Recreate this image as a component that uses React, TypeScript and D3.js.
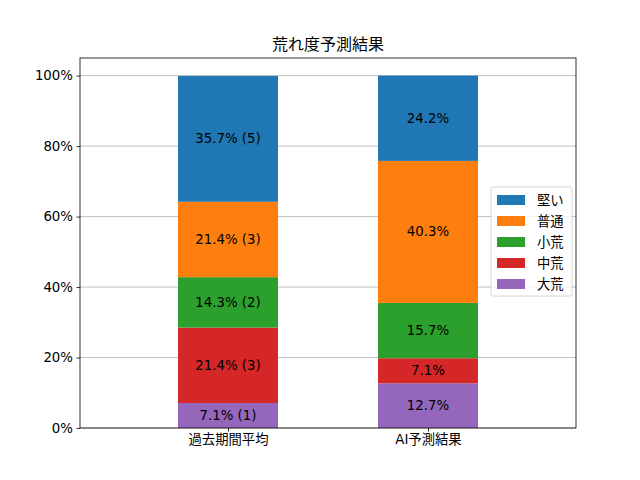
import * as React from 'react';
import { useEffect, useRef } from 'react';
import * as d3 from 'd3';

// Data
const categories = ['過去期間平均', 'AI予測結果'];
const levels = ['大荒', '中荒', '小荒', '普通', '堅い'];
const colors = ['#9467bd', '#d62728', '#2ca02c', '#ff7f0e', '#1f77b4'];
const pastValues = [7.1, 21.4, 14.3, 21.4, 35.7];
const pastCounts = [1, 3, 2, 3, 5];
const aiValues = [12.7, 7.1, 15.7, 40.3, 24.2];
const yTicks = [0, 20, 40, 60, 80, 100];

const FONT = "'DejaVu Sans', 'Noto Sans CJK JP', sans-serif";

const App: React.FC = () => {
  const svgRef = useRef<SVGSVGElement>(null);
  const width = 640;
  const height = 480;

  useEffect(() => {
    const svg = d3.select(svgRef.current);
    svg.selectAll('*').remove();

    const margin = { top: 58, right: 64, bottom: 52, left: 80 };
    const chartWidth = width - margin.left - margin.right;
    const chartHeight = height - margin.top - margin.bottom;

    const xScale = d3.scaleLinear().domain([-0.74, 1.74]).range([0, chartWidth]);
    const yScale = d3.scaleLinear().domain([0, 105]).range([chartHeight, 0]);
    const barW = xScale(0.5) - xScale(0);

    const g = svg.append('g').attr('transform', `translate(${margin.left},${margin.top})`);

    // Grid
    g.append('g')
      .selectAll('line')
      .data(yTicks)
      .enter().append('line')
      .attr('x1', 0)
      .attr('x2', chartWidth)
      .attr('y1', d => yScale(d))
      .attr('y2', d => yScale(d))
      .attr('stroke', '#b0b0b0')
      .attr('stroke-width', 0.8);

    // Stacked bars
    const series = [
      { values: pastValues, labels: pastValues.map((v, i) => `${v.toFixed(1)}% (${pastCounts[i]})`) },
      { values: aiValues, labels: aiValues.map(v => `${v.toFixed(1)}%`) },
    ];

    series.forEach((s, ci) => {
      let base = 0;
      s.values.forEach((v, li) => {
        const y0 = base;
        const y1 = base + v;
        base = y1;
        g.append('rect')
          .attr('x', xScale(ci) - barW / 2)
          .attr('y', yScale(y1))
          .attr('width', barW)
          .attr('height', yScale(y0) - yScale(y1))
          .attr('fill', colors[li]);
        g.append('text')
          .attr('x', xScale(ci))
          .attr('y', (yScale(y0) + yScale(y1)) / 2)
          .attr('text-anchor', 'middle')
          .attr('dominant-baseline', 'central')
          .attr('font-family', FONT)
          .attr('font-size', 13.33)
          .attr('fill', '#000')
          .text(s.labels[li]);
      });
    });

    // Axes
    const xAxis = g.append('g')
      .attr('transform', `translate(0,${chartHeight})`)
      .call(d3.axisBottom(xScale).tickValues([0, 1]).tickFormat((d, i) => categories[i]).tickSize(3.5).tickSizeOuter(0));
    const yAxis = g.append('g')
      .call(d3.axisLeft(yScale).tickValues(yTicks).tickFormat(d => `${d}%`).tickSize(3.5).tickSizeOuter(0));
    [xAxis, yAxis].forEach(a => {
      a.select('.domain').remove();
      a.selectAll('text').attr('font-family', FONT).attr('font-size', 13.33).attr('fill', '#000');
      a.selectAll('line').attr('stroke', '#000').attr('stroke-width', 0.8);
    });
    xAxis.selectAll('text').attr('dy', '0.71em').attr('y', 7);
    yAxis.selectAll('text').attr('x', -7);

    // Frame
    g.append('rect')
      .attr('width', chartWidth)
      .attr('height', chartHeight)
      .attr('fill', 'none')
      .attr('stroke', '#000')
      .attr('stroke-width', 0.8);

    // Title
    svg.append('text')
      .attr('x', margin.left + chartWidth / 2)
      .attr('y', margin.top - 8)
      .attr('text-anchor', 'middle')
      .attr('font-family', FONT)
      .attr('font-size', 16)
      .attr('fill', '#000')
      .text('荒れ度予測結果');

    // Legend (top to bottom: 堅い ... 大荒)
    const legendItems = levels.map((l, i) => ({ label: l, color: colors[i] })).reverse();
    const lg = svg.append('g').attr('transform', `translate(491,187)`);
    lg.append('rect')
      .attr('width', 81)
      .attr('height', 109)
      .attr('rx', 2)
      .attr('fill', '#fff')
      .attr('fill-opacity', 0.8)
      .attr('stroke', '#cccccc')
      .attr('stroke-width', 0.8);
    const items = lg.selectAll('g.item')
      .data(legendItems)
      .enter().append('g')
      .attr('transform', (d, i) => `translate(6,${13 + i * 21})`);
    items.append('rect')
      .attr('x', 0)
      .attr('y', -5)
      .attr('width', 28)
      .attr('height', 10)
      .attr('fill', d => d.color);
    items.append('text')
      .attr('x', 40)
      .attr('y', 0)
      .attr('dominant-baseline', 'central')
      .attr('font-family', FONT)
      .attr('font-size', 13.33)
      .attr('fill', '#000')
      .text(d => d.label);
  }, []);

  return <svg ref={svgRef} width={width} height={height} style={{ display: 'block', margin: -8 }}></svg>;
};

export default App;
